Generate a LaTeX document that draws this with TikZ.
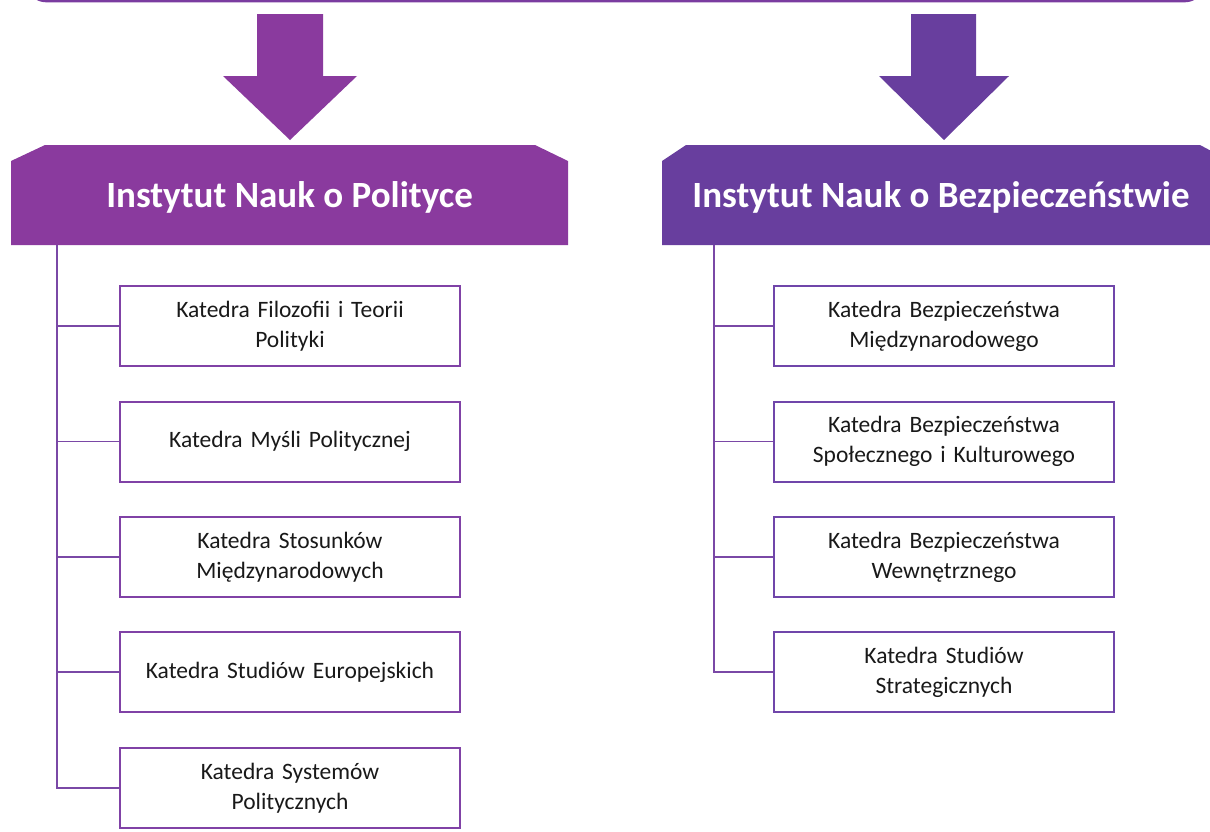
\documentclass[tikz,border=0pt]{standalone}
\usepackage{fontspec}
\setmainfont{Carlito}
\definecolor{polc}{RGB}{138,58,158}
\definecolor{secc}{RGB}{104,62,158}
\definecolor{boxl}{RGB}{128,66,166}
\definecolor{boxr}{RGB}{112,70,170}
\definecolor{linec}{RGB}{122,72,166}
\definecolor{topc}{RGB}{122,60,160}
\begin{document}
\begin{tikzpicture}[x=1pt,y=-1pt,
  hdrtext/.style={text=white,font=\bfseries\fontsize{37}{44}\selectfont,inner sep=0pt},
  dept/.style={draw=#1,line width=2pt,fill=white,minimum width=340pt,minimum height=80pt,
    text width=336pt,align=center,font=\fontsize{23.5}{30}\selectfont,inner sep=0pt,text=black!90},
  link/.style={draw=linec,line width=1.6pt}]
\useasboundingbox (0,0) rectangle (1210,831);
\clip (0,0) rectangle (1210,831);
% top box (cut off)
\draw[topc,line width=3pt,rounded corners=18pt] (28,-80) rectangle (1203,0.8);
% arrows
\fill[polc] (257,14) -- (323,14) -- (323,76) -- (357,76) -- (290,140) -- (223,76) -- (257,76) -- cycle;
\fill[secc] (911,14) -- (976,14) -- (976,76) -- (1009,76) -- (944,140) -- (879,76) -- (911,76) -- cycle;
% headers
\fill[polc] (11,245) -- (11,161) -- (45,145) -- (535,145) -- (568,161) -- (568,245) -- cycle;
\fill[secc] (662,245) -- (662,161) -- (686,145) -- (1200,145) -- (1230,161) -- (1230,245) -- cycle;
\node[hdrtext] (ip) at (289.5,197) {Instytut Nauk o Polityce};
\node[hdrtext] (ib) at (941,197) {Instytut Nauk o Bezpieczeństwie};
\coordinate (ipb) at (57,245);
\coordinate (ibb) at (714,245);
% left departments
\node[dept=boxl] (l1) at (290,326) {Katedra Filozofii i Teorii\\Polityki};
\node[dept=boxl] (l2) at (290,441.5) {Katedra Myśli Politycznej};
\node[dept=boxl] (l3) at (290,557) {Katedra Stosunków\\Międzynarodowych};
\node[dept=boxl] (l4) at (290,672) {Katedra Studiów Europejskich};
\node[dept=boxl] (l5) at (290,788) {Katedra Systemów\\Politycznych};
% right departments
\node[dept=boxr] (r1) at (944,326) {Katedra Bezpieczeństwa\\Międzynarodowego};
\node[dept=boxr] (r2) at (944,441.5) {Katedra Bezpieczeństwa\\Społecznego i Kulturowego};
\node[dept=boxr] (r3) at (944,557) {Katedra Bezpieczeństwa\\Wewnętrznego};
\node[dept=boxr] (r4) at (944,672) {Katedra Studiów\\Strategicznych};
% connectors
\draw[link] (ipb) |- (l5.west);
\foreach \n in {l1,l2,l3,l4}{\draw[link] (ipb |- \n.west) -- (\n.west);}
\draw[link] (ibb) |- (r4.west);
\foreach \n in {r1,r2,r3}{\draw[link] (ibb |- \n.west) -- (\n.west);}
\end{tikzpicture}
\end{document}
